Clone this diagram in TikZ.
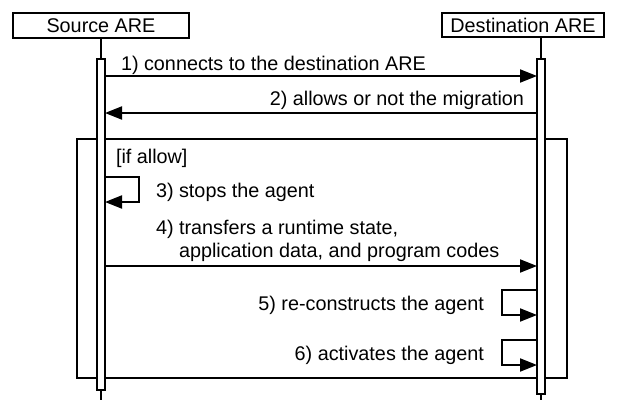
\documentclass[tikz,border=0pt]{standalone}
\usepackage{fontspec}
\setmainfont{Liberation Sans}
\usetikzlibrary{arrows.meta}
\begin{document}
\begin{tikzpicture}[x=1pt,y=-1pt,
  line width=2pt,
  every node/.style={font=\fontsize{19.8}{24}\selectfont},
  header/.style={draw,fill=white,inner sep=0pt,line width=2pt},
  actbar/.style={draw,fill=white,line width=2pt},
  lbl/.style={inner sep=0pt},
  msg/.style={-{Triangle[length=17pt,width=13pt]}},
]
\useasboundingbox (0,0) rectangle (617,400);

% participants
\node[header,minimum width=176pt,minimum height=25pt] (src) at (101,25.5) {Source ARE};
\node[header,minimum width=162pt,minimum height=24pt] (dst) at (523,25) {Destination ARE};

% lifelines
\coordinate (srcend) at (101,400);
\coordinate (dstend) at (541,400);
\draw (srcend |- src.south) -- (srcend);
\draw (dstend |- dst.south) -- (dstend);

% alt frame
\draw (77,139) rectangle (567,378);
\node[lbl,anchor=base west] (guard) at (115,163) {[if allow]};

% activation bars (drawn over the frame)
\filldraw[actbar] (97,59) rectangle (105,390);
\filldraw[actbar] (537,59) rectangle (545,394);
\coordinate (sbar) at (105,0);
\coordinate (dbar) at (537,0);

% 1) and 2)
\draw[msg] (sbar |- 0,76) -- (dbar |- 0,76);
\node[lbl,anchor=base west] (m1) at (120,70) {1) connects to the destination ARE};
\draw[msg] (dbar |- 0,113) -- (sbar |- 0,113);
\node[lbl,anchor=base east] (m2) at (525,105) {2) allows or not the migration};

% 3) self call on source
\draw[msg] (sbar |- 0,177) -| (139,202) -- (sbar |- 0,202);
\node[lbl,anchor=base west] (m3) at (155,197) {3) stops the agent};

% 4)
\draw[msg] (sbar |- 0,266) -- (dbar |- 0,266);
\node[lbl,anchor=base west] (m4a) at (155,234) {4) transfers a runtime state,};
\node[lbl,anchor=base west] (m4b) at (178,257) {application data, and program codes};

% 5) and 6) self calls on destination
\draw[msg] (dbar |- 0,290) -| (502,315) -- (dbar |- 0,315);
\node[lbl,anchor=base east] (m5) at (485,310) {5) re-constructs the agent};
\draw[msg] (dbar |- 0,340) -| (502,365) -- (dbar |- 0,365);
\node[lbl,anchor=base east] (m6) at (485,360) {6) activates the agent};
\end{tikzpicture}
\end{document}
